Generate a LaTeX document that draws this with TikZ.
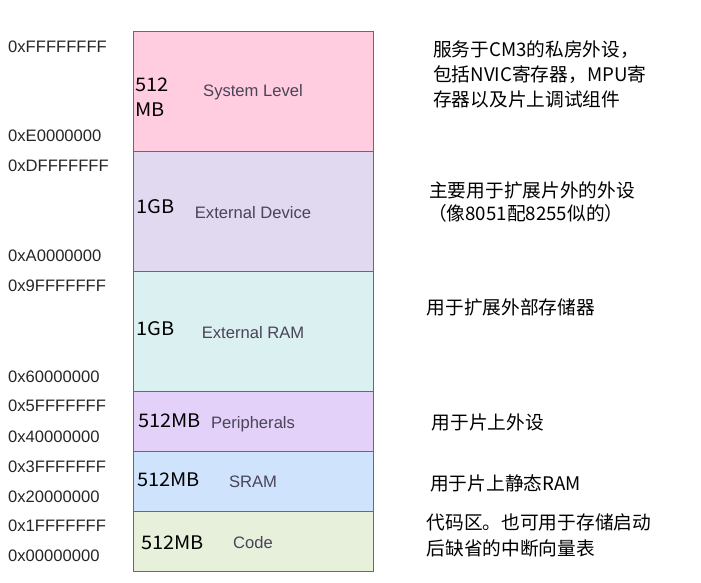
\documentclass[tikz,border=0pt]{standalone}
\usepackage{fontspec}
\setmainfont{Liberation Sans}
\newfontfamily\cjk{Noto Sans CJK SC}
\newfontfamily\cjkwide[FakeStretch=1.07]{Noto Sans CJK SC}
\definecolor{cSys}{HTML}{FFCCE0}
\definecolor{cDev}{HTML}{E1D9EF}
\definecolor{cRam}{HTML}{DBF0F0}
\definecolor{cPer}{HTML}{E3D1FA}
\definecolor{cSram}{HTML}{CFE4FC}
\definecolor{cCode}{HTML}{E6F0DA}
\definecolor{cBorder}{HTML}{6A6A6A}
\definecolor{cName}{HTML}{4A4458}
\begin{document}
\begin{tikzpicture}[x=1pt,y=-1pt,
  regionbox/.style={draw=cBorder, line width=0.9pt},
  addrlbl/.style={anchor=base west, font=\fontsize{16.6}{19}\selectfont, text=black!85, inner sep=0pt},
  sizelbl/.style={anchor=base west, font=\cjkwide\fontsize{18.7}{22}\selectfont, inner sep=0pt, align=left},
  namelbl/.style={anchor=base, font=\fontsize{16.6}{19}\selectfont, text=cName, inner sep=0pt},
  notelbl/.style={anchor=base west, font=\cjk\fontsize{18.7}{25}\selectfont, inner sep=0pt, align=left}]
\useasboundingbox (0,0) rectangle (701,583);
% regions
\filldraw[regionbox, fill=cSys]  (133,31)  rectangle (373,151);
\filldraw[regionbox, fill=cDev]  (133,151) rectangle (373,271);
\filldraw[regionbox, fill=cRam]  (133,271) rectangle (373,391);
\filldraw[regionbox, fill=cPer]  (133,391) rectangle (373,451);
\filldraw[regionbox, fill=cSram] (133,451) rectangle (373,511);
\filldraw[regionbox, fill=cCode] (133,511) rectangle (373,571);
% addresses
\node[addrlbl] (a1)  at (8,52.5)  {0xFFFFFFFF};
\node[addrlbl] (a2)  at (8,141.5) {0xE0000000};
\node[addrlbl] (a3)  at (8,171.5) {0xDFFFFFFF};
\node[addrlbl] (a4)  at (8,261.5) {0xA0000000};
\node[addrlbl] (a5)  at (8,291.5) {0x9FFFFFFF};
\node[addrlbl] (a6)  at (8,382.5) {0x60000000};
\node[addrlbl] (a7)  at (8,411.5) {0x5FFFFFFF};
\node[addrlbl] (a8)  at (8,442.5) {0x40000000};
\node[addrlbl] (a9)  at (8,472.5) {0x3FFFFFFF};
\node[addrlbl] (a10) at (8,502.5) {0x20000000};
\node[addrlbl] (a11) at (8,531.5) {0x1FFFFFFF};
\node[addrlbl] (a12) at (8,561.5) {0x00000000};
% sizes
\node[sizelbl] (s1) at (135,92)  {512};
\node[sizelbl] (s1b) at (135,116.5) {MB};
\node[sizelbl] (s2) at (136,213.5) {1GB};
\node[sizelbl] (s3) at (136,335) {1GB};
\node[sizelbl] (s4) at (138,427) {512MB};
\node[sizelbl] (s5) at (137,486) {512MB};
\node[sizelbl] (s6) at (141,549) {512MB};
% names
\node[namelbl] (n1) at (253,96.5)  {System Level};
\node[namelbl] (n2) at (253,218) {External Device};
\node[namelbl] (n3) at (253,338) {External RAM};
\node[namelbl] (n4) at (253,428) {Peripherals};
\node[namelbl] (n5) at (253,487.5) {SRAM};
\node[namelbl] (n6) at (253,548) {Code};
% notes
\node[notelbl] (t1) at (433,57)  {服务于CM3的私房外设，};
\node[notelbl] (t1b) at (433,82) {包括NVIC寄存器，MPU寄};
\node[notelbl] (t1c) at (433,107) {存器以及片上调试组件};
\node[notelbl] (t2) at (429,197) {主要用于扩展片外的外设};
\node[notelbl] (t2b) at (428,220.5) {（像8051配8255似的）};
\node[notelbl] (t3) at (426.5,314.5) {用于扩展外部存储器};
\node[notelbl] (t4) at (431.5,429.5) {用于片上外设};
\node[notelbl] (t5) at (430,490.5) {用于片上静态RAM};
\node[notelbl] (t6) at (426.5,529.5) {代码区。也可用于存储启动};
\node[notelbl] (t6b) at (426.5,555) {后缺省的中断向量表};
\end{tikzpicture}
\end{document}
